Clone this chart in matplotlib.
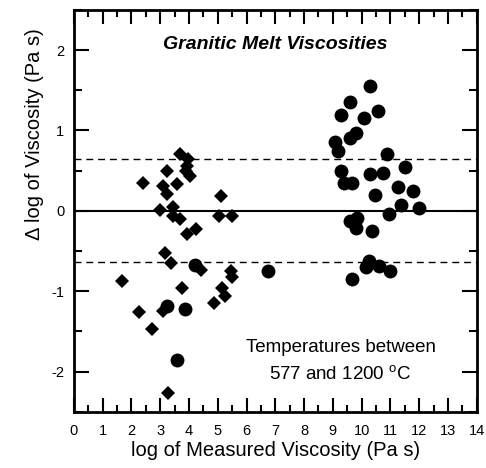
import numpy as np
import matplotlib
matplotlib.use('Agg')
import matplotlib.pyplot as plt
from matplotlib.ticker import MultipleLocator

plt.rcParams['font.family'] = ['Liberation Sans', 'DejaVu Sans']
plt.rcParams['mathtext.fontset'] = 'custom'
plt.rcParams['mathtext.rm'] = 'Liberation Sans'

# Viscosity residuals, diamond series
dia_x = [3.68, 3.96, 3.93, 3.89, 4.03, 3.22, 2.41, 3.10, 3.59, 3.22, 5.10,
         2.99, 3.45, 3.43, 3.70, 5.03, 5.51, 3.93, 4.24, 3.18, 3.37, 4.43,
         5.45, 5.51, 1.68, 3.77, 5.16, 5.25, 4.86, 2.26, 3.08, 2.73, 3.28]
dia_y = [0.71, 0.65, 0.56, 0.50, 0.43, 0.50, 0.35, 0.31, 0.33, 0.21, 0.18,
         0.01, 0.05, -0.06, -0.10, -0.07, -0.06, -0.29, -0.22, -0.53, -0.65,
         -0.73, -0.75, -0.82, -0.87, -0.96, -0.96, -1.06, -1.15, -1.26,
         -1.24, -1.47, -2.27]

# Viscosity residuals, circle series
circ_x = [4.20, 3.24, 3.85, 3.60, 6.75,
          10.28, 9.58, 9.27, 10.57, 10.08, 9.79, 9.58, 9.07, 9.18, 10.88,
          9.29, 10.28, 10.74, 11.49, 9.39, 9.68, 10.45, 11.28, 11.78,
          11.38, 11.99, 10.95, 9.58, 9.85, 9.81, 10.36,
          10.24, 10.14, 10.60, 11.00, 9.66]
circ_y = [-0.675, -1.18, -1.225, -1.85, -0.75,
          1.55, 1.35, 1.19, 1.24, 1.15, 0.97, 0.90, 0.85, 0.75, 0.71,
          0.49, 0.46, 0.47, 0.54, 0.35, 0.35, 0.20, 0.30, 0.25,
          0.075, 0.03, -0.04, -0.125, -0.09, -0.21, -0.25,
          -0.625, -0.70, -0.69, -0.75, -0.85]

band = 0.64

fig = plt.figure(figsize=(4.86, 4.68), dpi=100)
ax = fig.add_axes([0.152, 0.12, 0.829, 0.859])

# zero line and +/- band
ax.axhline(0, color='black', lw=1.5, zorder=1)
ax.axhline(band, color='black', lw=1.0, dashes=(5, 3.5), zorder=1)
ax.axhline(-band, color='black', lw=1.0, dashes=(5, 3.5), zorder=1)

ax.plot(dia_x, dia_y, 'D', color='black', ms=7, mew=0, zorder=3)
ax.plot(circ_x, circ_y, 'o', color='black', ms=10, mew=0, zorder=3)

ax.set_xlim(0, 14)
ax.set_ylim(-2.5, 2.5)
ax.xaxis.set_major_locator(MultipleLocator(1))
ax.xaxis.set_minor_locator(MultipleLocator(0.5))
ax.yaxis.set_major_locator(MultipleLocator(1))
ax.yaxis.set_minor_locator(MultipleLocator(0.5))
ax.tick_params(which='both', direction='in', top=True, right=True,
               width=1.5, labelsize=10.5)
ax.tick_params(axis='x', which='major', length=10, pad=9)
ax.tick_params(axis='x', which='minor', length=5)
ax.tick_params(axis='y', which='major', length=10.5, pad=7)
ax.tick_params(axis='y', which='minor', length=5.5)
ax.set_yticks([-2, -1, 0, 1, 2])
ax.set_yticklabels(['-2', '-1', '0', '1', '2'])
for s in ax.spines.values():
    s.set_linewidth(2)

ax.set_xlabel('log of Measured Viscosity (Pa s)', fontsize=14.5, labelpad=2)
ax.set_ylabel('\u0394 log of Viscosity (Pa s)', fontsize=14.5)
ax.yaxis.set_label_coords(-0.075, 0.69)

ax.text(7, 2.07, 'Granitic Melt Viscosities', ha='center', va='center',
        fontsize=14, fontweight='bold', fontstyle='italic')
ax.text(9.27, -1.70, 'Temperatures between', ha='center', va='center',
        fontsize=13.5)
ax.text(9.27, -2.04, '577 and 1200 $^{\\mathrm{o}}$C', ha='center',
        va='center', fontsize=13.5)

fig.savefig('out.png', dpi=100)
